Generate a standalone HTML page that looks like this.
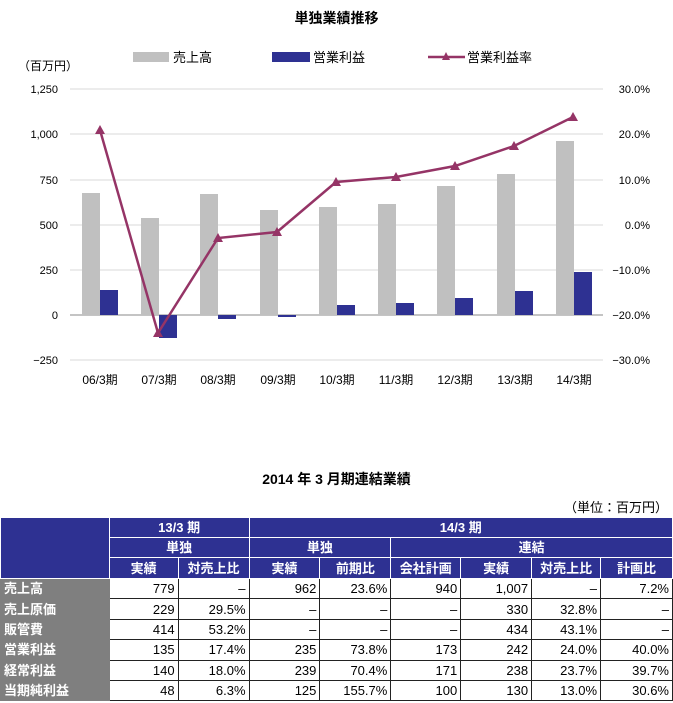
<!DOCTYPE html>
<html><head><meta charset="utf-8"><style>
body{margin:0;width:673px;height:703px;background:#fff;font-family:"Liberation Sans","Noto Sans CJK JP",sans-serif;position:relative;overflow:hidden}
.t{position:absolute;white-space:nowrap}
table{position:absolute;left:0;top:517px;border-collapse:collapse;table-layout:fixed;font-size:13px}
td{border:1px solid #222;padding:0 3px;height:19px;text-align:right;line-height:19px}
tr.d td{height:19.4px}
.h{background:#2e3192;color:#fff;text-align:center;font-weight:bold;border-color:#fff}
.l{background:#7f7f7f;color:#fff;text-align:left;font-weight:bold;border-color:#7f7f7f}
</style></head><body>
<div class="t" style="left:0;width:673px;text-align:center;top:8px;font-weight:bold;font-size:14px">単独業績推移</div>
<svg width="673" height="400" style="position:absolute;left:0;top:0" font-family="Liberation Sans,Noto Sans CJK JP,sans-serif">
<text x="18" y="70" font-size="12">（百万円）</text>
<rect x="133" y="52" width="36" height="10" fill="#c0c0c0"/><text x="173" y="62" font-size="13">売上高</text>
<rect x="272" y="52" width="38" height="10" fill="#2e3192"/><text x="313" y="62" font-size="13">営業利益</text>
<line x1="428" y1="57" x2="465" y2="57" stroke="#953466" stroke-width="2.5"/><polygon points="446,52 442,60 450,60" fill="#953466"/><text x="467" y="62" font-size="13">営業利益率</text>
<g stroke="#d9d9d9" stroke-width="1">
<line x1="70" y1="89" x2="603" y2="89"/><line x1="70" y1="134" x2="603" y2="134"/><line x1="70" y1="180" x2="603" y2="180"/><line x1="70" y1="225" x2="603" y2="225"/><line x1="70" y1="270" x2="603" y2="270"/><line x1="70" y1="360" x2="603" y2="360"/></g>
<line x1="70" y1="315" x2="603" y2="315" stroke="#888"/>
<g font-size="11" text-anchor="end"><text x="58" y="93">1,250</text><text x="58" y="138">1,000</text><text x="58" y="184">750</text><text x="58" y="229">500</text><text x="58" y="274">250</text><text x="58" y="319">0</text><text x="58" y="364">−250</text></g>
<g font-size="11" text-anchor="end"><text x="650" y="93">30.0%</text><text x="650" y="138">20.0%</text><text x="650" y="184">10.0%</text><text x="650" y="229">0.0%</text><text x="650" y="274">−10.0%</text><text x="650" y="319">−20.0%</text><text x="650" y="364">−30.0%</text></g>
<g fill="#c0c0c0">
<rect x="82" y="193" width="18" height="122"/><rect x="141" y="218" width="18" height="97"/><rect x="200" y="194" width="18" height="121"/><rect x="260" y="210" width="18" height="105"/><rect x="319" y="207" width="18" height="108"/><rect x="378" y="204" width="18" height="111"/><rect x="437" y="186" width="18" height="129"/><rect x="497" y="174" width="18" height="141"/><rect x="556" y="141" width="18" height="174"/></g>
<g fill="#2e3192">
<rect x="100" y="290" width="18" height="25"/><rect x="159" y="315" width="18" height="23"/><rect x="218" y="315" width="18" height="4"/><rect x="278" y="315" width="18" height="2"/><rect x="337" y="305" width="18" height="10"/><rect x="396" y="303" width="18" height="12"/><rect x="455" y="298" width="18" height="17"/><rect x="515" y="291" width="18" height="24"/><rect x="574" y="272" width="18" height="43"/></g>
<polyline fill="none" stroke="#953466" stroke-width="2.5" points="100,130 158,333 218,238 277,232 336,182 396,177 455,166 514,146 573,117"/>
<g fill="#953466">
<polygon points="100,125 95,134 105,134"/><polygon points="158,328 153,337 163,337"/><polygon points="218,233 213,242 223,242"/><polygon points="277,227 272,236 282,236"/><polygon points="336,177 331,186 341,186"/><polygon points="396,172 391,181 401,181"/><polygon points="455,161 450,170 460,170"/><polygon points="514,141 509,150 519,150"/><polygon points="573,112 568,121 578,121"/></g>
<g font-size="12" text-anchor="middle"><text x="100" y="384">06/3期</text><text x="159" y="384">07/3期</text><text x="218" y="384">08/3期</text><text x="278" y="384">09/3期</text><text x="337" y="384">10/3期</text><text x="396" y="384">11/3期</text><text x="455" y="384">12/3期</text><text x="515" y="384">13/3期</text><text x="574" y="384">14/3期</text></g>
</svg>
<div class="t" style="left:0;width:673px;text-align:center;top:469px;font-weight:bold;font-size:14px">2014 年 3 月期連結業績</div>
<div class="t" style="right:5px;top:497px;font-size:13px">（単位：百万円）</div>
<table>
<colgroup><col style="width:109px"><col style="width:69px"><col style="width:71px"><col style="width:71px"><col style="width:71px"><col style="width:70px"><col style="width:71px"><col style="width:69px"><col style="width:72px"></colgroup>
<tr><td class="h" rowspan="3"></td><td class="h" colspan="2">13/3 期</td><td class="h" colspan="6">14/3 期</td></tr>
<tr><td class="h" colspan="2">単独</td><td class="h" colspan="2">単独</td><td class="h" colspan="4">連結</td></tr>
<tr><td class="h" style="height:20px">実績</td><td class="h">対売上比</td><td class="h">実績</td><td class="h">前期比</td><td class="h">会社計画</td><td class="h">実績</td><td class="h">対売上比</td><td class="h">計画比</td></tr>
<tr class="d"><td class="l">売上高</td><td>779</td><td>–</td><td>962</td><td>23.6%</td><td>940</td><td>1,007</td><td>–</td><td>7.2%</td></tr>
<tr class="d"><td class="l">売上原価</td><td>229</td><td>29.5%</td><td>–</td><td>–</td><td>–</td><td>330</td><td>32.8%</td><td>–</td></tr>
<tr class="d"><td class="l">販管費</td><td>414</td><td>53.2%</td><td>–</td><td>–</td><td>–</td><td>434</td><td>43.1%</td><td>–</td></tr>
<tr class="d"><td class="l">営業利益</td><td>135</td><td>17.4%</td><td>235</td><td>73.8%</td><td>173</td><td>242</td><td>24.0%</td><td>40.0%</td></tr>
<tr class="d"><td class="l">経常利益</td><td>140</td><td>18.0%</td><td>239</td><td>70.4%</td><td>171</td><td>238</td><td>23.7%</td><td>39.7%</td></tr>
<tr class="d"><td class="l">当期純利益</td><td>48</td><td>6.3%</td><td>125</td><td>155.7%</td><td>100</td><td>130</td><td>13.0%</td><td>30.6%</td></tr>
</table>
</body></html>
